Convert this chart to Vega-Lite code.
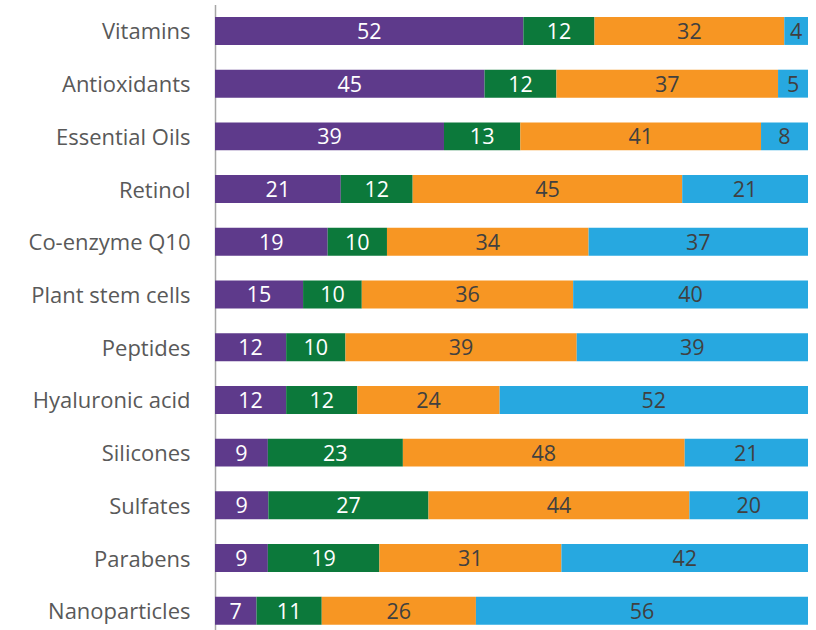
{
  "$schema": "https://vega.github.io/schema/vega-lite/v6.json",
  "autosize": {"type": "none"},
  "padding": {"left": 215, "top": 4.6, "right": 8, "bottom": 0},
  "width": 593,
  "height": 632.5,
  "background": "white",
  "config": {"view": {"stroke": null}, "font": "Open Sans"},
  "data": {"values": [
    {"cat": "Vitamins", "seg": "a", "v": 52},
    {"cat": "Vitamins", "seg": "b", "v": 12},
    {"cat": "Vitamins", "seg": "c", "v": 32},
    {"cat": "Vitamins", "seg": "d", "v": 4},
    {"cat": "Antioxidants", "seg": "a", "v": 45},
    {"cat": "Antioxidants", "seg": "b", "v": 12},
    {"cat": "Antioxidants", "seg": "c", "v": 37},
    {"cat": "Antioxidants", "seg": "d", "v": 5},
    {"cat": "Essential Oils", "seg": "a", "v": 39},
    {"cat": "Essential Oils", "seg": "b", "v": 13},
    {"cat": "Essential Oils", "seg": "c", "v": 41},
    {"cat": "Essential Oils", "seg": "d", "v": 8},
    {"cat": "Retinol", "seg": "a", "v": 21},
    {"cat": "Retinol", "seg": "b", "v": 12},
    {"cat": "Retinol", "seg": "c", "v": 45},
    {"cat": "Retinol", "seg": "d", "v": 21},
    {"cat": "Co-enzyme Q10", "seg": "a", "v": 19},
    {"cat": "Co-enzyme Q10", "seg": "b", "v": 10},
    {"cat": "Co-enzyme Q10", "seg": "c", "v": 34},
    {"cat": "Co-enzyme Q10", "seg": "d", "v": 37},
    {"cat": "Plant stem cells", "seg": "a", "v": 15},
    {"cat": "Plant stem cells", "seg": "b", "v": 10},
    {"cat": "Plant stem cells", "seg": "c", "v": 36},
    {"cat": "Plant stem cells", "seg": "d", "v": 40},
    {"cat": "Peptides", "seg": "a", "v": 12},
    {"cat": "Peptides", "seg": "b", "v": 10},
    {"cat": "Peptides", "seg": "c", "v": 39},
    {"cat": "Peptides", "seg": "d", "v": 39},
    {"cat": "Hyaluronic acid", "seg": "a", "v": 12},
    {"cat": "Hyaluronic acid", "seg": "b", "v": 12},
    {"cat": "Hyaluronic acid", "seg": "c", "v": 24},
    {"cat": "Hyaluronic acid", "seg": "d", "v": 52},
    {"cat": "Silicones", "seg": "a", "v": 9},
    {"cat": "Silicones", "seg": "b", "v": 23},
    {"cat": "Silicones", "seg": "c", "v": 48},
    {"cat": "Silicones", "seg": "d", "v": 21},
    {"cat": "Sulfates", "seg": "a", "v": 9},
    {"cat": "Sulfates", "seg": "b", "v": 27},
    {"cat": "Sulfates", "seg": "c", "v": 44},
    {"cat": "Sulfates", "seg": "d", "v": 20},
    {"cat": "Parabens", "seg": "a", "v": 9},
    {"cat": "Parabens", "seg": "b", "v": 19},
    {"cat": "Parabens", "seg": "c", "v": 31},
    {"cat": "Parabens", "seg": "d", "v": 42},
    {"cat": "Nanoparticles", "seg": "a", "v": 7},
    {"cat": "Nanoparticles", "seg": "b", "v": 11},
    {"cat": "Nanoparticles", "seg": "c", "v": 26},
    {"cat": "Nanoparticles", "seg": "d", "v": 56}
  ]},
  "transform": [
    {"stack": "v", "groupby": ["cat"], "sort": [{"field": "seg", "order": "ascending"}], "offset": "normalize", "as": ["x0", "x1"]},
    {"calculate": "(datum.x0 + datum.x1) / 2", "as": "xm"}
  ],
  "encoding": {
    "y": {
      "field": "cat", "type": "nominal", "sort": null,
      "scale": {"paddingInner": 0.47, "paddingOuter": 0.235},
      "axis": {"title": null, "ticks": false, "domainColor": "#A6A6A6", "domainWidth": 1.5, "labelFontSize": 22, "labelColor": "#595959", "labelPadding": 25, "labelOffset": 1.5, "labelFont": "Open Sans"}
    }
  },
  "layer": [
    {
      "mark": {"type": "bar"},
      "encoding": {
        "x": {"field": "x0", "type": "quantitative", "scale": {"domain": [0, 1], "nice": false}, "axis": null},
        "x2": {"field": "x1"},
        "color": {"field": "seg", "type": "nominal", "legend": null,
          "scale": {"domain": ["a", "b", "c", "d"], "range": ["#5E3A8B", "#0C793B", "#F79623", "#27A8E0"]}}
      }
    },
    {
      "mark": {"type": "text", "fontSize": 21.5, "font": "Open Sans", "baseline": "middle", "align": "center", "dy": 2},
      "encoding": {
        "x": {"field": "xm", "type": "quantitative"},
        "text": {"field": "v", "type": "quantitative"},
        "color": {"field": "seg", "type": "nominal", "legend": null,
          "scale": {"domain": ["a", "b", "c", "d"], "range": ["#FFFFFF", "#FFFFFF", "#404040", "#404040"]}}
      }
    }
  ],
  "resolve": {"scale": {"color": "independent"}}
}
